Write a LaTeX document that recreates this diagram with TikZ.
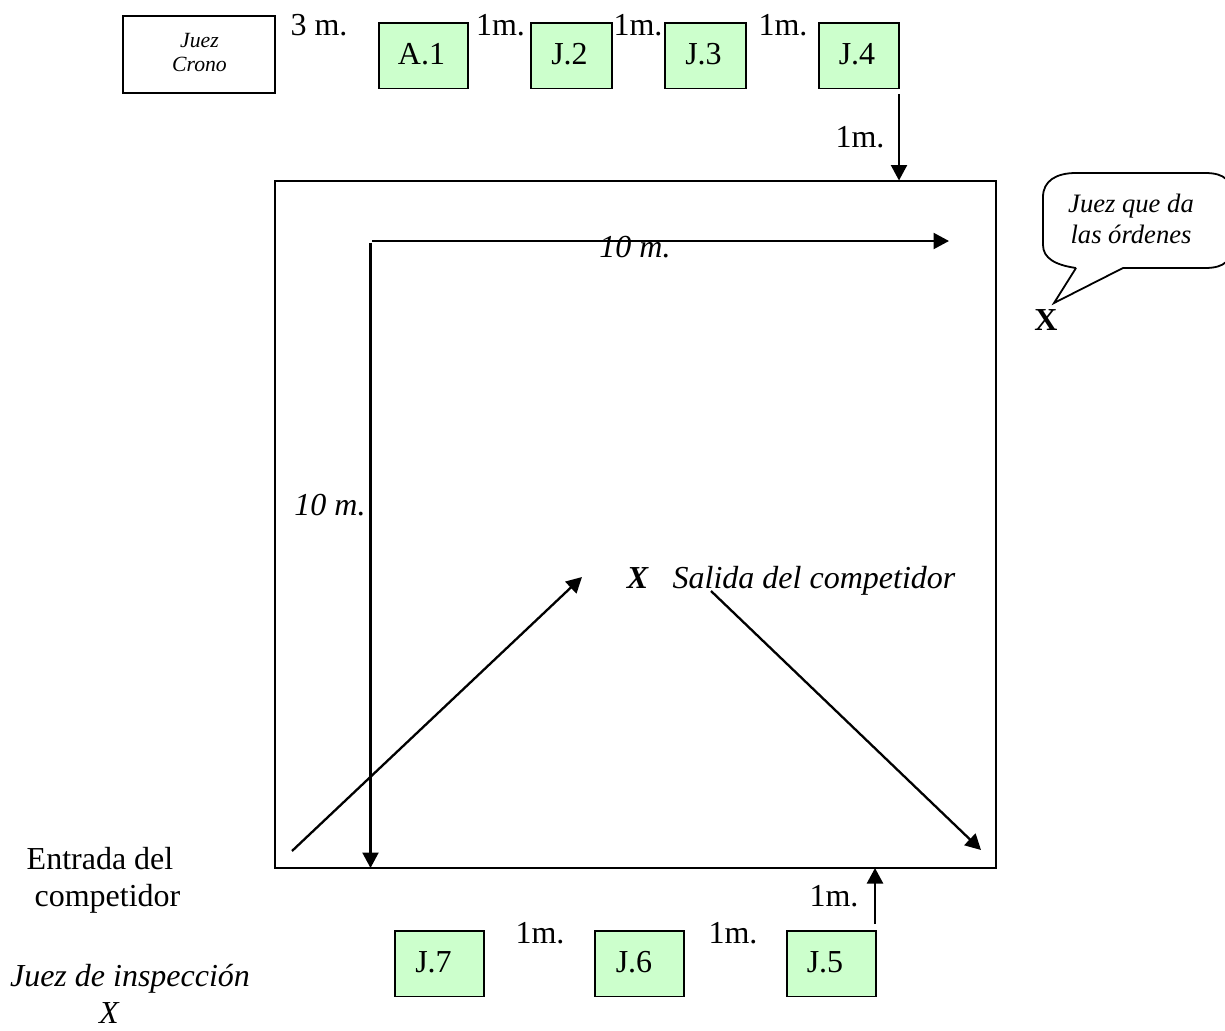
\documentclass[tikz,border=0pt]{standalone}
\usepackage{fontspec}
\setmainfont{Liberation Serif}
\usetikzlibrary{arrows.meta}
\definecolor{judgegreen}{RGB}{204,255,204}
\tikzset{
  judgebox/.style={draw=black,fill=judgegreen,line width=1.8pt,outer sep=0pt,minimum width=89pt,minimum height=65.5pt,inner sep=0pt,text height=21.6pt,text depth=4.5pt,font=\fontsize{32}{32}\selectfont,anchor=north west},
  lab/.style={inner sep=0pt,anchor=base,font=\fontsize{32}{32}\selectfont},
  ilab/.style={inner sep=0pt,anchor=base,font=\fontsize{32}{32}\selectfont\itshape},
  conn/.style={line width=2.3pt,-{Triangle[length=15.5pt,width=16pt]}},
  plainbox/.style={draw=black,line width=2pt,outer sep=0pt,inner sep=0pt,anchor=north west},
}
\begin{document}
\begin{tikzpicture}[x=1pt,y=-1pt]
\useasboundingbox (0,0) rectangle (1225,1030);
\fill[white] (0,0) rectangle (1225,1030);
% top row
\node[plainbox,minimum width=152pt,minimum height=77pt] (crono) at (123,16) {};
\node[inner sep=0pt,anchor=base,font=\fontsize{21.7}{24}\selectfont\itshape] (cronoa) at (199.5,48) {Juez};
\node[inner sep=0pt,anchor=base,font=\fontsize{21.7}{24}\selectfont\itshape] (cronob) at (199.5,72) {Crono};
\node[judgebox] (a1) at (379,23) {A.1\kern4pt};
\node[judgebox,minimum width=81pt] (j2) at (531,23) {J.2\kern4pt};
\node[judgebox,minimum width=81pt] (j3) at (665,23) {J.3\kern4pt};
\node[judgebox,minimum width=80pt] (j4) at (819,23) {J.4\kern4pt};
\node[lab] (m3) at (319,36) {3 m.};
\node[lab] (m1a) at (500.5,36) {1m.};
\node[lab] (m1b) at (638,36) {1m.};
\node[lab] (m1c) at (783,36) {1m.};
% field
\node[plainbox,minimum width=720.5pt,minimum height=687.5pt] (field) at (275,180.5) {};
\coordinate (j4foot) at ([yshift=-5.5pt]j4.south east);
\coordinate (fieldtop) at (j4foot |- field.north);
\draw[conn] (j4foot) -- (fieldtop);
\node[lab] (m1d) at (860,147) {1m.};
% 10 m lines
\coordinate (cornerh) at (372,241);
\coordinate (cornerv) at (370.5,243);
\coordinate (hend) at (949,241);
\coordinate (vend) at (cornerv |- field.south);
\draw[conn] (cornerh) -- (hend);
\draw[conn] (cornerv) -- (vend);
\node[ilab] (ten1) at (635,257) {10 m.};
\node[ilab] (ten2) at (330,515) {10 m.};
% start
\node[ilab,font=\fontsize{32}{32}\selectfont\bfseries\itshape] (xs) at (637.5,588) {X};
\node[ilab] (salida) at (814,588) {Salida del competidor};
\coordinate (in1) at (292,851);
\coordinate (in2) at (582,577);
\coordinate (out1) at (711,591);
\coordinate (out2) at (981,850);
\draw[conn] (in1) -- (in2);
\draw[conn] (out1) -- (out2);
% bubble
\draw[line width=1.8pt,fill=white] (1076,268) .. controls (1055,265) and (1043,258) .. (1043,245)
  -- (1043,197) .. controls (1043,181) and (1056,173) .. (1076,173)
  -- (1205,173) .. controls (1215,173) and (1222,175) .. (1226,179)
  (1226,262) .. controls (1222,266) and (1215,268) .. (1205,268)
  -- (1123,268) -- (1054,303) -- (1076,268);
\node[inner sep=0pt,anchor=base,font=\fontsize{26.6}{31}\selectfont\itshape] (saya) at (1131,212) {Juez que da};
\node[inner sep=0pt,anchor=base,font=\fontsize{26.6}{31}\selectfont\itshape] (sayb) at (1131,243) {las órdenes};
\node[lab,font=\fontsize{32}{32}\selectfont\bfseries] (xj) at (1046,330) {X};
% bottom row
\node[judgebox] (j7) at (395,931) {J.7\kern12pt};
\node[judgebox] (j6) at (595,931) {J.6\kern11pt};
\node[judgebox] (j5) at (787,931) {J.5\kern13pt};
\node[lab] (m1e) at (540,943) {1m.};
\node[lab] (m1f) at (733,943) {1m.};
\node[lab] (m1g) at (834,906) {1m.};
\coordinate (j5top) at ([yshift=7pt,xshift=-1pt]j5.north east);
\coordinate (fieldbot) at (j5top |- field.south);
\draw[conn] (j5top) -- (fieldbot);
% left texts
\node[lab] (ent1) at (100,869) {Entrada del};
\node[lab] (ent2) at (107.5,906) {competidor};
\node[ilab] (insp) at (130,986) {Juez de inspección};
\node[ilab] (xi) at (109,1023) {X};
\end{tikzpicture}
\end{document}
